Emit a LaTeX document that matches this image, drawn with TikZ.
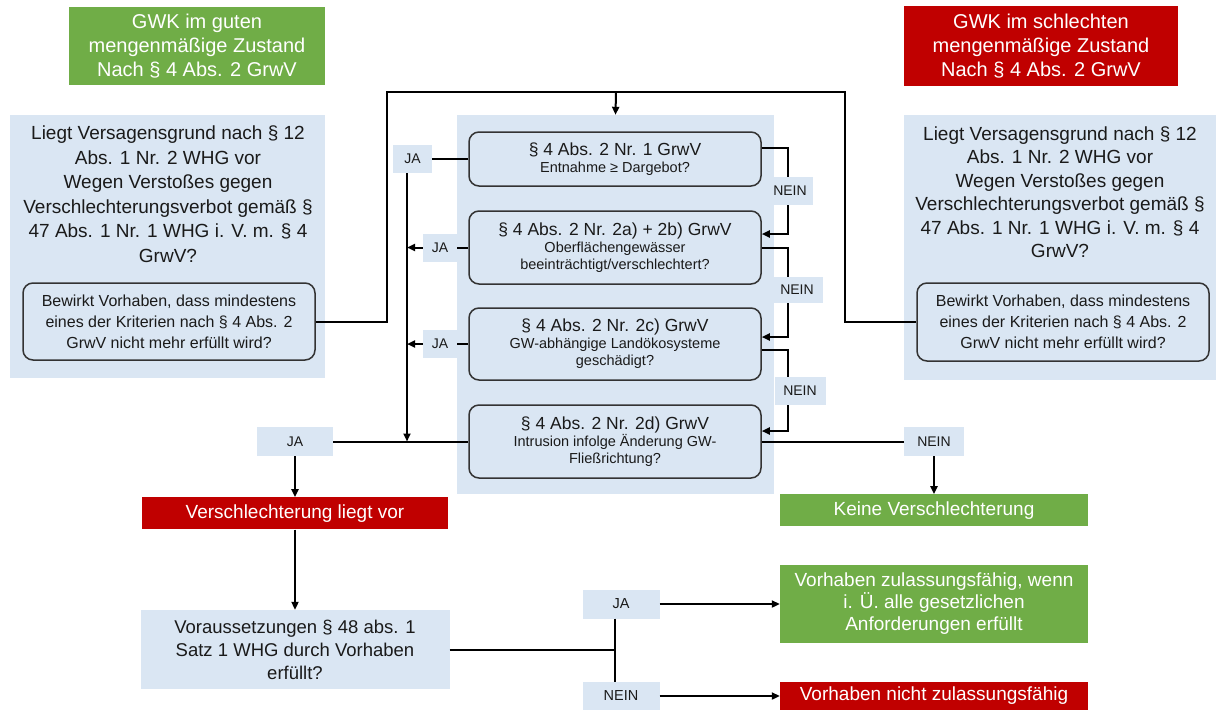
\documentclass[tikz,border=0pt]{standalone}
\usepackage{fontspec}
\setsansfont{Liberation Sans}
\RequirePackage{xcolor}
\tikzset{every picture/.style={/utils/exec={\sffamily}}}
\usetikzlibrary{calc}
\usetikzlibrary{positioning}
\usetikzlibrary{arrows.meta}
\definecolor{gwgreen}{HTML}{70AD47}
\definecolor{gwred}{HTML}{C00000}
\definecolor{gwblue}{HTML}{DAE6F3}
\definecolor{gwtext}{HTML}{1A1A1A}
\definecolor{gwframe}{HTML}{333333}
\newcommand{\crithead}[1]{{\fontsize{17.5}{17.5}\selectfont #1}}
\tikzset{every node/.style={align=center, inner sep=2pt, text=gwtext},
         okbox/.style={     % green result boxes
           fill=gwgreen, text=white,
           font=\fontsize{19}{22}\selectfont},
         failbox/.style={   % red result boxes
           fill=gwred, text=white,
           font=\fontsize{19}{22}\selectfont},
         panel/.style={     % light blue background areas
           fill=gwblue},
         question/.style={  % rounded question boxes
           draw=gwframe, fill=gwblue, line width=1.5pt,
           rounded corners=10pt, minimum width=292pt},
         reply/.style={     % JA / NEIN labels
           fill=gwblue, minimum height=28pt,
           font=\fontsize{14}{16}\selectfont},
         flow/.style={      % connectors
           line width=2pt, black},
         >={Triangle[length=8pt,width=7pt]}}

\begin{document}
\begin{tikzpicture}[x=1pt, y=-1pt]
  \useasboundingbox (0,0) rectangle (1216,710);

  % state of the groundwater body
  \node [okbox, minimum width=256pt, minimum height=78pt, font=\fontsize{20}{24}\selectfont]
    (qgood) at (197,46) {GWK im guten\\mengenmäßige Zustand\\Nach § 4 Abs. 2 GrwV};
  \node [failbox, minimum width=274pt, minimum height=80pt, font=\fontsize{20}{24}\selectfont]
    (qbad) at (1041,46) {GWK im schlechten\\mengenmäßige Zustand\\Nach § 4 Abs. 2 GrwV};

  \node [panel, minimum width=315pt, minimum height=263pt] (qleftbg) at (167.5,246.5) {};
  \node [font=\fontsize{19}{24.5}\selectfont] (qlefttxt) at (168,194)
    {Liegt Versagensgrund nach § 12\\Abs. 1 Nr. 2 WHG vor\\Wegen Verstoßes gegen\\Verschlechterungsverbot gemäß §\\47 Abs. 1 Nr. 1 WHG i. V. m. § 4\\GrwV?};
  \node [question, minimum height=77pt, font=\fontsize{16}{21}\selectfont] (qleftask) at (169,321.5)
    {Bewirkt Vorhaben, dass mindestens\\eines der Kriterien nach § 4 Abs. 2\\GrwV nicht mehr erfüllt wird?};

  \node [panel, minimum width=312pt, minimum height=265pt] (qrightbg) at (1060,247.5) {};
  \node [font=\fontsize{19}{23.5}\selectfont] (qrighttxt) at (1060,192)
    {Liegt Versagensgrund nach § 12\\Abs. 1 Nr. 2 WHG vor\\Wegen Verstoßes gegen\\Verschlechterungsverbot gemäß §\\47 Abs. 1 Nr. 1 WHG i. V. m. § 4\\GrwV?};
  \node [question, minimum height=78pt, font=\fontsize{16}{21}\selectfont] (qrightask) at (1063,322)
    {Bewirkt Vorhaben, dass mindestens\\eines der Kriterien nach § 4 Abs. 2\\GrwV nicht mehr erfüllt wird?};

  % criteria of § 4 Abs. 2 GrwV
  \node [panel, minimum width=317pt, minimum height=379pt] (qcenter) at (615.5,304.5) {};
  \node [question, minimum height=54pt, font=\fontsize{14.5}{17}\selectfont] (qc1) at (615,159)
    {\crithead{§ 4 Abs. 2 Nr. 1 GrwV}\\Entnahme ≥ Dargebot?};
  \node [question, minimum height=73pt, font=\fontsize{14.5}{17}\selectfont] (qc2) at (615,247.5)
    {\crithead{§ 4 Abs. 2 Nr. 2a) + 2b) GrwV}\\Oberflächengewässer\\beeinträchtigt/verschlechtert?};
  \node [question, minimum height=72pt, font=\fontsize{14.5}{17}\selectfont] (qc3) at (615,344)
    {\crithead{§ 4 Abs. 2 Nr. 2c) GrwV}\\GW-abhängige Landökosysteme\\geschädigt?};
  \node [question, minimum height=73pt, font=\fontsize{14.5}{17}\selectfont] (qc4) at (615,441.5)
    {\crithead{§ 4 Abs. 2 Nr. 2d) GrwV}\\Intrusion infolge Änderung GW-\\Fließrichtung?};

  \draw [flow] (qleftask.east) -- ++(71,0) |- (616,92) coordinate (qtop);
  \draw [flow] (qrightask.west) -- ++(-71,0) |- (qtop);
  \draw [flow, ->] (qtop) -- (qcenter.north);

  \node [reply, minimum width=39pt, left=36pt of qc1] (ja1) {JA};
  \node [reply, minimum width=34pt, left=11pt of qc2] (ja2) {JA};
  \node [reply, minimum width=34pt, left=11pt of qc3] (ja3) {JA};
  \coordinate (jline) at (407,441.5);
  \draw [flow] (ja1) -- (qc1);
  \draw [flow] (ja2) -- (qc2);
  \draw [flow] (ja3) -- (qc3);
  \draw [flow, ->] (ja1.south -| jline) -- (jline);
  \draw [flow, ->] (ja2.west) -- (ja2.west -| jline);
  \draw [flow, ->] (ja3.west) -- (ja3.west -| jline);

  \draw [flow, ->] ([yshift=11pt]qc1.east) -- ++(26,0) |- ([yshift=13.5pt]qc2.east);
  \draw [flow, ->] (qc2.east) -- ++(26,0) |- ([yshift=7pt]qc3.east);
  \draw [flow, ->] ([yshift=-6pt]qc3.east) -- ++(26,0) |- ([yshift=10.5pt]qc4.east);
  \node [reply, minimum width=45pt] (n1) at (790,191) {NEIN};
  \node [reply, minimum width=51pt, minimum height=26pt] (n2) at (797,290) {NEIN};
  \node [reply, minimum width=51pt] (n3) at (800,391) {NEIN};

  % outcome
  \node [reply, minimum width=76pt, minimum height=29pt] (jayes) at (295,441.5) {JA};
  \node [reply, minimum width=60pt, minimum height=29pt] (neinno) at (934,441.5) {NEIN};
  \draw [flow] (jayes) -- (qc4);
  \draw [flow] (qc4) -- (neinno);
  \node [failbox, minimum width=306pt, minimum height=32pt, below=41pt of jayes] (qworse) {Verschlechterung liegt vor};
  \node [okbox, minimum width=308pt, minimum height=32pt, below=38pt of neinno] (qnone) {Keine Verschlechterung};
  \draw [flow, ->] (jayes) -- (qworse);
  \draw [flow, ->] (neinno) -- (qnone);

  \node [panel, minimum width=309pt, minimum height=79pt, font=\fontsize{18.5}{23}\selectfont]
    (qcheck) at (295,649.5) {Voraussetzungen § 48 abs. 1\\Satz 1 WHG durch Vorhaben\\erfüllt?};
  \draw [flow, ->] (qworse) -- (qcheck);

  \node [reply, minimum width=77pt, minimum height=29pt, font=\fontsize{14.5}{16}\selectfont] (jaok) at (621,604) {JA};
  \node [reply, minimum width=77pt, font=\fontsize{14.5}{16}\selectfont] (neinfail) at (621,696) {NEIN};
  \node [okbox, minimum width=308pt, minimum height=78pt] (qok) at (934,604)
    {Vorhaben zulassungsfähig, wenn\\i. Ü. alle gesetzlichen\\Anforderungen erfüllt};
  \node [failbox, minimum width=308pt, minimum height=28pt] (qno) at (934,696) {Vorhaben nicht zulassungsfähig};
  \coordinate (jfork) at (615,649.5);
  \draw [flow] (qcheck) -- (jfork);
  \draw [flow] (jaok.south -| jfork) -- (neinfail.north -| jfork);
  \draw [flow, ->] (jaok) -- (qok);
  \draw [flow, ->] (neinfail) -- (qno);
\end{tikzpicture}
\end{document}
